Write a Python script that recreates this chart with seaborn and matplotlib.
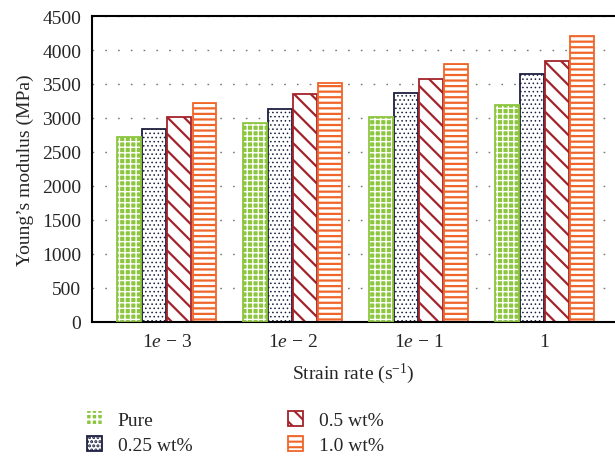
import matplotlib
matplotlib.use("Agg")
import matplotlib.pyplot as plt
from matplotlib.patches import Rectangle
import pandas as pd
import seaborn as sns

# values (MPa)
rates = ["$1e-3$", "$1e-2$", "$1e-1$", "$1$"]
contents = ["Pure", "0.25 wt%", "0.5 wt%", "1.0 wt%"]
pure = [2720, 2920, 3010, 3190]
wt025 = [2840, 3130, 3370, 3640]
wt05 = [3010, 3350, 3580, 3840]
wt10 = [3220, 3510, 3800, 4200]
yticks = list(range(0, 4501, 500))

colors = ["#8cc63f", "#1c1f3f", "#a3232b", "#f0662a"]
hatches = ["+++", "....", "\\\\", "---"]
hatch_lw = [1.0, 0.6, 1.6, 1.6]

sns.set_style("white")
plt.rcParams["font.family"] = ["Liberation Serif", "DejaVu Serif"]
plt.rcParams["mathtext.fontset"] = "custom"
plt.rcParams["mathtext.rm"] = "Liberation Serif"
plt.rcParams["mathtext.it"] = "Liberation Serif:italic"
plt.rcParams["hatch.linewidth"] = 1.5

rows = []
for name, vals in zip(contents, [pure, wt025, wt05, wt10]):
    for r, v in zip(rates, vals):
        rows.append({"rate": r, "content": name, "modulus": v})
df = pd.DataFrame(rows)

fig = plt.figure(figsize=(6.15, 4.6), dpi=100)
ax = fig.add_axes([0.150, 0.298, 0.848, 0.665])

sns.barplot(data=df, x="rate", y="modulus", hue="content", order=rates,
            hue_order=contents, palette=colors, width=0.8, gap=0.06,
            errorbar=None, legend=False, ax=ax, zorder=2)

for i, cont in enumerate(ax.containers):
    for p in cont.patches:
        p.set_hatch(hatches[i])
        if hasattr(p, "set_hatch_linewidth"):
            p.set_hatch_linewidth(hatch_lw[i])
        if i == 0:
            # green fill with white grid, outline drawn on top
            p.set_facecolor(colors[0])
            p.set_edgecolor("white")
            p.set_linewidth(0)
            ax.add_patch(Rectangle(p.get_xy(), p.get_width(), p.get_height(),
                                   fill=False, edgecolor=colors[0], lw=1.3, zorder=3))
        else:
            p.set_facecolor("white")
            p.set_edgecolor(colors[i])
            p.set_linewidth(1.3)

ax.set_ylim(0, 4500)
ax.set_xlim(-0.59, 3.55)
ax.set_yticks(yticks)
ax.yaxis.grid(True, linestyle=(0, (1.2, 8)), color="#777777", lw=1.0, zorder=0)
ax.set_axisbelow(True)

for s in ["left", "bottom", "top"]:
    ax.spines[s].set_color("black")
    ax.spines[s].set_linewidth(1.5)
ax.spines["right"].set_visible(False)

ax.tick_params(axis="y", direction="in", length=0, labelsize=14, pad=8)
ax.tick_params(axis="x", length=0, labelsize=14, pad=8)
ax.set_xticks(range(len(rates)))
ax.set_xticklabels(["1$e$ − 3", "1$e$ − 2", "1$e$ − 1", "1"])
ax.set_xlabel("Strain rate (s$^{-1}$)", fontsize=14, labelpad=8)
ax.set_ylabel("Young’s modulus (MPa)", fontsize=14, labelpad=6)

handles = [c.patches[0] for c in ax.containers]
fig.legend(handles, contents, loc="upper left", bbox_to_anchor=(0.125, 0.125),
           bbox_transform=fig.transFigure, ncol=2, frameon=False, fontsize=14,
           handlelength=0.8, handleheight=0.8, handletextpad=0.8,
           columnspacing=4.9, labelspacing=0.35, borderpad=0)

fig.savefig("out.png", dpi=100)
